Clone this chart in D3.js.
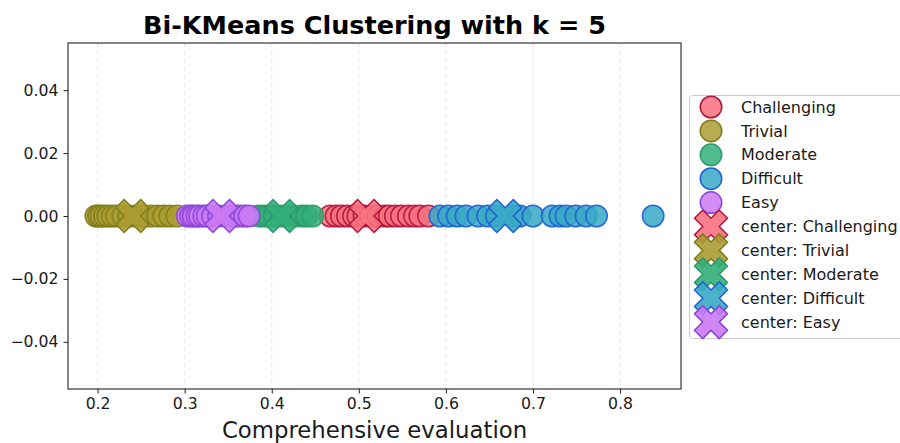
<!DOCTYPE html>
<html>
<head>
<meta charset="utf-8">
<script src="https://cdn.jsdelivr.net/npm/d3@7/dist/d3.min.js"></script>
<style>
  body { margin: 0; background: #fff; }
  svg { display: block; font-family: "DejaVu Sans", sans-serif; }
</style>
</head>
<body>
<svg id="chart" width="900" height="443"></svg>
<script>
// cluster names, in plotting / legend order
var clusters = ["Challenging", "Trivial", "Moderate", "Difficult", "Easy"];

// comprehensive evaluation of each sample, per cluster
var challengingVals = [0.467, 0.474, 0.480, 0.487, 0.494, 0.499, 0.506, 0.513, 0.522, 0.530,
    0.535, 0.542, 0.549, 0.557, 0.564, 0.570, 0.580];
var trivialVals = [0.198, 0.201, 0.204, 0.208, 0.212, 0.217, 0.222, 0.229, 0.236, 0.244,
    0.252, 0.261, 0.269, 0.276, 0.283, 0.291];
var moderateVals = [0.385, 0.390, 0.396, 0.403, 0.411, 0.419, 0.426, 0.434, 0.440, 0.447];
var difficultVals = [0.593, 0.603, 0.613, 0.623, 0.637, 0.648, 0.658, 0.676, 0.685, 0.700,
    0.722, 0.731, 0.738, 0.749, 0.761, 0.773, 0.838];
var easyVals = [0.303, 0.307, 0.310, 0.314, 0.317, 0.322, 0.326, 0.332, 0.339, 0.347,
    0.354, 0.359, 0.364, 0.369, 0.374];

// cluster centres, same order as clusters
var centerVals = [0.508, 0.240, 0.411, 0.668, 0.342];

var xTicks = [0.2, 0.3, 0.4, 0.5, 0.6, 0.7, 0.8];
var yTicks = [-0.04, -0.02, 0.00, 0.02, 0.04];

var fills = ["#f7717f", "#ab9c32", "#33ae7a", "#38a8c5", "#cb7af4"];
var edges = ["#b3163c", "#7f7d1c", "#2c9a68", "#1d5fd4", "#8b45d6"];

var W = 900, H = 443,
    margin = { left: 68, right: 219, top: 43, bottom: 54 },
    plotW = W - margin.left - margin.right,
    plotH = H - margin.top - margin.bottom,
    R = 11.5,          // circle radius, px
    XSIZE = 35,        // filled-X marker size, px
    TICK_FS = "15.7px",
    LEG_FS = "16px";

var svg = d3.select("#chart");

var allVals = [].concat(challengingVals, trivialVals, moderateVals, difficultVals, easyVals),
    ext = d3.extent(allVals),
    pad = (ext[1] - ext[0]) * 0.05;

var x = d3.scaleLinear().domain([ext[0] - pad, ext[1] + pad]).range([margin.left, margin.left + plotW]);
var y = d3.scaleLinear().domain([-0.055, 0.055]).range([margin.top + plotH, margin.top]);

// filled "X" marker: a plus rotated by 45 degrees
function xPath(size) {
    var pts = [[-1, -3], [1, -3], [1, -1], [3, -1], [3, 1], [1, 1], [1, 3], [-1, 3], [-1, 1], [-3, 1], [-3, -1], [-1, -1]],
        c = Math.SQRT1_2;
    return "M" + pts.map(function (p) {
        var px = p[0] / 6 * size, py = p[1] / 6 * size;
        return [(px * c - py * c).toFixed(2), (px * c + py * c).toFixed(2)].join(",");
    }).join("L") + "Z";
}

// grid (vertical dashed only)
svg.append("g").selectAll("line").data(xTicks).enter().append("line")
    .attr("x1", function (d) { return x(d); })
    .attr("x2", function (d) { return x(d); })
    .attr("y1", margin.top).attr("y2", margin.top + plotH)
    .attr("stroke", "#b0b0b0").attr("stroke-opacity", 0.5)
    .attr("stroke-dasharray", "4,4").attr("stroke-width", 0.8);

var series = [challengingVals, trivialVals, moderateVals, difficultVals, easyVals];
var marks = svg.append("g");

series.forEach(function (vals, i) {
    marks.append("g").selectAll("circle").data(vals).enter().append("circle")
        .attr("cx", function (d) { return x(d); })
        .attr("cy", y(0))
        .attr("r", R - 0.75)
        .attr("fill", fills[i]).attr("fill-opacity", 0.85)
        .attr("stroke", edges[i]).attr("stroke-opacity", 0.9)
        .attr("stroke-width", 1.5);
});

marks.append("g").selectAll("path").data(centerVals).enter().append("path")
    .attr("d", xPath(XSIZE))
    .attr("transform", function (d) { return "translate(" + x(d) + "," + y(0) + ")"; })
    .attr("fill", function (d, i) { return fills[i]; }).attr("fill-opacity", 0.9)
    .attr("stroke", function (d, i) { return edges[i]; }).attr("stroke-width", 1.5);

// axes
var fmtY = function (d) { return d3.format(".2f")(d).replace("-", "\u2212"); };

var gx = svg.append("g")
    .attr("transform", "translate(0," + (margin.top + plotH) + ")")
    .call(d3.axisBottom(x).tickValues(xTicks).tickFormat(d3.format(".1f")).tickSizeOuter(0).tickSize(4.5).tickPadding(4));
var gy = svg.append("g")
    .attr("transform", "translate(" + margin.left + ",0)")
    .call(d3.axisLeft(y).tickValues(yTicks).tickFormat(fmtY).tickSizeOuter(0).tickSize(4.5).tickPadding(5));

[gx, gy].forEach(function (g) {
    g.select(".domain").remove();
    g.selectAll(".tick line").attr("stroke", "#222").attr("stroke-width", 1);
    g.selectAll(".tick text").attr("fill", "#1a1a1a").style("font-size", TICK_FS).style("font-family", "DejaVu Sans");
});

// frame
svg.append("rect")
    .attr("x", margin.left).attr("y", margin.top)
    .attr("width", plotW).attr("height", plotH)
    .attr("fill", "none").attr("stroke", "#222").attr("stroke-width", 1.1);

// title and label
svg.append("text")
    .attr("x", margin.left + plotW / 2).attr("y", 34)
    .attr("text-anchor", "middle")
    .style("font-size", "25.5px").style("font-weight", "bold")
    .text("Bi-KMeans Clustering with k = 5");

svg.append("text")
    .attr("x", margin.left + plotW / 2).attr("y", 438)
    .attr("text-anchor", "middle")
    .style("font-size", "22.8px").attr("fill", "#1a1a1a")
    .text("Comprehensive evaluation");

// legend
var legend = svg.append("g");
legend.append("rect")
    .attr("x", 689.5).attr("y", 95.5).attr("width", 230).attr("height", 243)
    .attr("rx", 3).attr("fill", "#fff").attr("fill-opacity", 0.8)
    .attr("stroke", "#ccc").attr("stroke-width", 1);

var legendItems = clusters.map(function (c, i) { return { label: c, i: i, kind: "pt" }; })
    .concat(clusters.map(function (c, i) { return { label: "center: " + c, i: i, kind: "ctr" }; }));

var rows = legend.selectAll("g.row").data(legendItems).enter().append("g")
    .attr("class", "row")
    .attr("transform", function (d, k) { return "translate(711," + (107 + k * 23.9) + ")"; });

rows.each(function (d) {
    var g = d3.select(this);
    if (d.kind === "pt") {
        g.append("circle").attr("r", R - 0.75)
            .attr("fill", fills[d.i]).attr("fill-opacity", 0.85)
            .attr("stroke", edges[d.i]).attr("stroke-width", 1.5);
    } else {
        g.append("path").attr("d", xPath(XSIZE))
            .attr("fill", fills[d.i]).attr("fill-opacity", 0.9)
            .attr("stroke", edges[d.i]).attr("stroke-width", 1.5);
    }
    g.append("text").attr("x", 30).attr("dy", "0.35em")
        .style("font-size", LEG_FS).attr("fill", "#1a1a1a")
        .text(d.label);
});
</script>
</body>
</html>
